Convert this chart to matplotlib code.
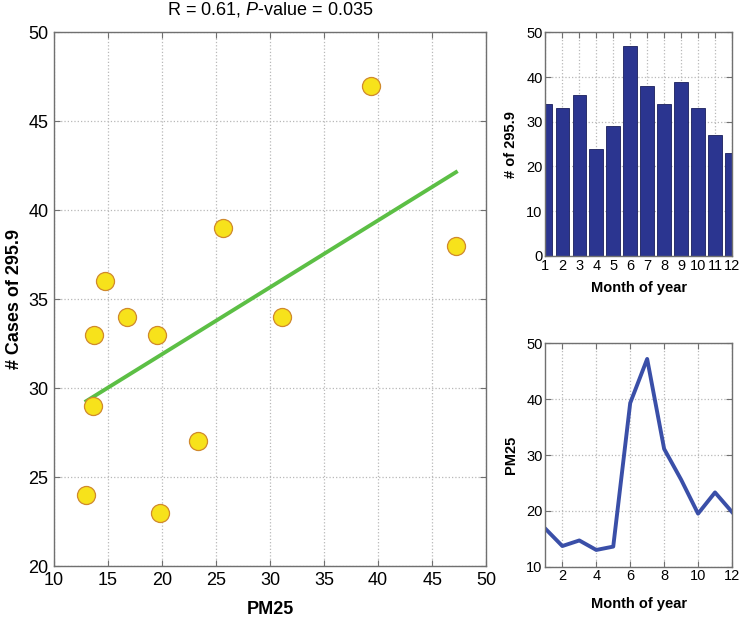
import numpy as np
import matplotlib
matplotlib.use('Agg')
import matplotlib.pyplot as plt

plt.rcParams['font.family'] = ['Liberation Sans', 'DejaVu Sans']
plt.rcParams['mathtext.fontset'] = 'custom'
plt.rcParams['mathtext.it'] = 'Liberation Sans:italic'
plt.rcParams['mathtext.rm'] = 'Liberation Sans'

# monthly data
months = np.arange(1, 13)
cases = [34, 33, 36, 24, 29, 47, 38, 34, 39, 33, 27, 23]
pm25 = [16.8, 13.7, 14.7, 13.0, 13.6, 39.3, 47.2, 31.1, 25.6, 19.5, 23.3, 19.8]

grid_kw = dict(color='#b8b8b8', linestyle=':', linewidth=0.9)
spine_col = '#707070'


def style(ax, fs):
    ax.grid(True, **grid_kw)
    ax.set_axisbelow(True)
    for s in ax.spines.values():
        s.set_color(spine_col)
        s.set_linewidth(1.0)
    ax.tick_params(direction='in', length=4, color=spine_col, labelsize=fs,
                   top=True, right=True, pad=4)


fig = plt.figure(figsize=(7.39, 6.18), dpi=100)

# scatter with linear fit
ax = fig.add_axes([0.073, 0.084, 0.585, 0.864])
x = np.array(pm25)
y = np.array(cases)
k, b = np.polyfit(x, y, 1)
xs = np.array([x.min(), x.max()])
ax.plot(xs, k * xs + b, color='#5cbf45', lw=2.8, zorder=2)
ax.plot(x, y, 'o', ms=13, mfc='#f7e21b', mec='#d0892c', mew=0.9, zorder=3)
ax.set_xlim(10, 50)
ax.set_ylim(20, 50)
ax.set_xticks(range(10, 51, 5))
ax.set_yticks(range(20, 51, 5))
style(ax, 13)
ax.set_xlabel('PM25', fontsize=13, fontweight='bold', labelpad=9)
ax.set_ylabel('# Cases of 295.9', fontsize=13, fontweight='bold', labelpad=4)
ax.set_title(r'R = 0.61, $\it{P}$-value = 0.035', fontsize=13, pad=13)

# bar chart of monthly cases
ax2 = fig.add_axes([0.738, 0.586, 0.2525, 0.3615])
ax2.bar(months, cases, width=0.8, color='#2b3590', edgecolor='#1a1f5c', lw=0.6)
ax2.set_xlim(1, 12)
ax2.set_ylim(0, 50)
ax2.set_xticks(months)
ax2.set_yticks(range(0, 51, 10))
style(ax2, 10.5)
ax2.tick_params(pad=2)
ax2.set_xlabel('Month of year', fontsize=10.5, fontweight='bold', labelpad=6)
ax2.set_ylabel('# of 295.9', fontsize=10.5, fontweight='bold', labelpad=6)

# monthly PM25 line
ax3 = fig.add_axes([0.738, 0.083, 0.2525, 0.3615])
ax3.plot(months, pm25, color='#3a4fa8', lw=2.8)
ax3.set_xlim(1, 12)
ax3.set_ylim(10, 50)
ax3.set_xticks(range(2, 13, 2))
ax3.set_yticks(range(10, 51, 10))
style(ax3, 10.5)
ax3.tick_params(pad=2)
ax3.set_xlabel('Month of year', fontsize=10.5, fontweight='bold', labelpad=10)
ax3.set_ylabel('PM25', fontsize=10.5, fontweight='bold', labelpad=6)

fig.savefig('out.png', dpi=100)
